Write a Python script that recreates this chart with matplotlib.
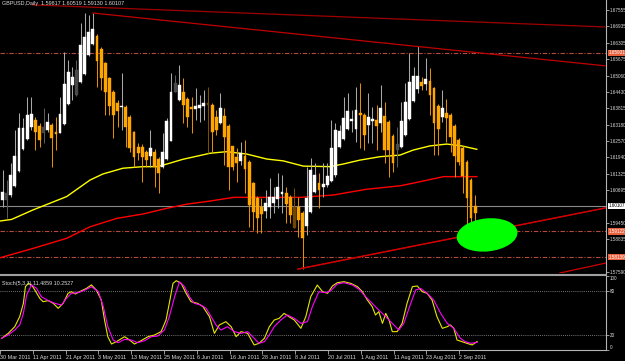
import matplotlib
matplotlib.use("Agg")
import matplotlib.pyplot as plt
import matplotlib.transforms as mtransforms
from matplotlib.patches import Ellipse
from matplotlib.lines import Line2D

plt.rcParams['font.family'] = ['Liberation Sans', 'DejaVu Sans']

# ---------------- data ----------------
symbol_title = "GBPUSD,Daily  1.59817 1.60519 1.59130 1.60107"
stoch_title = "Stoch(5,3,3) 11.4859 10.2527"

bars = list(range(1, 117))
opens = [1.6032, 1.6032, 1.6051, 1.6086, 1.6143, 1.6225, 1.6264, 1.6309, 1.6336, 1.6314,
         1.6288, 1.6298, 1.6316, 1.6291, 1.6288, 1.6321, 1.6397, 1.6470, 1.6432, 1.6482,
         1.6512, 1.6584, 1.6626, 1.6656, 1.6607, 1.6552, 1.6495, 1.6444, 1.6400, 1.6385,
         1.6387, 1.6349, 1.6290, 1.6235, 1.6235, 1.6216, 1.6199, 1.6216, 1.6187, 1.6159,
         1.6187, 1.6257, 1.6444, 1.6413, 1.6444, 1.6416, 1.6385, 1.6378, 1.6383, 1.6390,
         1.6400, 1.6394, 1.6347, 1.6324, 1.6352, 1.6314, 1.6237, 1.6197, 1.6181, 1.6199,
         1.6175, 1.6095, 1.6040, 1.6004, 1.5991, 1.6004, 1.6021, 1.6034, 1.6054, 1.6057,
         1.6044, 1.6006, 1.6006, 1.5981, 1.5933, 1.5987, 1.6063, 1.6098, 1.6082, 1.6089,
         1.6105, 1.6127, 1.6232, 1.6264, 1.6302, 1.6334, 1.6301, 1.6362, 1.6355, 1.6317,
         1.6334, 1.6336, 1.6325, 1.6352, 1.6330, 1.6275, 1.6222, 1.6232, 1.6279, 1.6340,
         1.6409, 1.6455, 1.6482, 1.6472, 1.6486, 1.6457, 1.6390, 1.6347, 1.6364, 1.6355,
         1.6314, 1.6260, 1.6229, 1.6178, 1.6108, 1.59817]
highs = [1.6146, 1.6108, 1.6171, 1.6298, 1.6362, 1.6343, 1.6425, 1.6425, 1.6349, 1.6324,
         1.6381, 1.6362, 1.6324, 1.6349, 1.6425, 1.6597, 1.6565, 1.6540, 1.6565, 1.6705,
         1.6744, 1.6736, 1.6744, 1.6664, 1.6615, 1.6557, 1.6500, 1.6451, 1.6413, 1.6514,
         1.6394, 1.6355, 1.6295, 1.6249, 1.6245, 1.6222, 1.6298, 1.6226, 1.6195, 1.6286,
         1.6344, 1.6514, 1.6508, 1.6546, 1.6495, 1.6424, 1.6425, 1.6457, 1.6432, 1.6451,
         1.6463, 1.6401, 1.6375, 1.6438, 1.6381, 1.6321, 1.6237, 1.6229, 1.6254, 1.6260,
         1.6184, 1.6100, 1.6047, 1.6038, 1.6070, 1.6114, 1.6082, 1.6133, 1.6127, 1.6082,
         1.6051, 1.6076, 1.6044, 1.5990, 1.6159, 1.6191, 1.6171, 1.6133, 1.6171, 1.6171,
         1.6336, 1.6324, 1.6317, 1.6425, 1.6438, 1.6375, 1.6463, 1.6476, 1.6363, 1.6438,
         1.6387, 1.6394, 1.6470, 1.6406, 1.6336, 1.6283, 1.6309, 1.6406, 1.6476, 1.6591,
         1.6540, 1.6618, 1.6501, 1.6572, 1.6533, 1.6462, 1.6397, 1.6451, 1.6415, 1.6363,
         1.6321, 1.6268, 1.6237, 1.6184, 1.6115, 1.60519]
lows = [1.6006, 1.5962, 1.6044, 1.6082, 1.6139, 1.6222, 1.6260, 1.6298, 1.6222, 1.6235,
        1.6248, 1.6292, 1.6159, 1.6222, 1.6286, 1.6317, 1.6394, 1.6413, 1.6428, 1.6476,
        1.6508, 1.6580, 1.6622, 1.6463, 1.6451, 1.6355, 1.6355, 1.6267, 1.6311, 1.6298,
        1.6235, 1.6216, 1.6159, 1.6184, 1.6101, 1.6159, 1.6159, 1.6082, 1.6057, 1.6152,
        1.6184, 1.6256, 1.6443, 1.6409, 1.6324, 1.6311, 1.6286, 1.6336, 1.6330, 1.6336,
        1.6210, 1.6216, 1.6279, 1.6321, 1.6165, 1.6070, 1.6146, 1.6101, 1.6165, 1.6057,
        1.5930, 1.5917, 1.5905, 1.5905, 1.5962, 1.5962, 1.5981, 1.6000, 1.5981, 1.5943,
        1.5943, 1.5924, 1.5892, 1.5768, 1.5898, 1.5981, 1.6057, 1.6000, 1.6044, 1.6082,
        1.6101, 1.6120, 1.6230, 1.6260, 1.6298, 1.6292, 1.6254, 1.6229, 1.6222, 1.6248,
        1.6248, 1.6222, 1.6292, 1.6171, 1.6120, 1.6139, 1.6159, 1.6229, 1.6275, 1.6336,
        1.6405, 1.6438, 1.6451, 1.6451, 1.6355, 1.6203, 1.6203, 1.6330, 1.6254, 1.6216,
        1.6120, 1.6165, 1.6057, 1.5930, 1.5917, 1.59130]
closes = [1.6064, 1.6058, 1.6127, 1.6199, 1.6305, 1.6307, 1.6355, 1.6358, 1.6290, 1.6260,
          1.6309, 1.6330, 1.6267, 1.6283, 1.6358, 1.6472, 1.6520, 1.6501, 1.6527, 1.6622,
          1.6654, 1.6671, 1.6682, 1.6562, 1.6495, 1.6444, 1.6391, 1.6355, 1.6371, 1.6390,
          1.6309, 1.6229, 1.6197, 1.6210, 1.6197, 1.6184, 1.6229, 1.6159, 1.6136, 1.6216,
          1.6333, 1.6444, 1.6476, 1.6470, 1.6394, 1.6349, 1.6377, 1.6390, 1.6394, 1.6402,
          1.6394, 1.6292, 1.6298, 1.6383, 1.6271, 1.6159, 1.6156, 1.6171, 1.6210, 1.6149,
          1.6013, 1.5987, 1.5962, 1.5978, 1.6021, 1.6044, 1.6044, 1.6082, 1.6063, 1.6017,
          1.5974, 1.5924, 1.5955, 1.5886, 1.6038, 1.6146, 1.6127, 1.6070, 1.6093, 1.6123,
          1.6229, 1.6298, 1.6296, 1.6343, 1.6372, 1.6339, 1.6375, 1.6355, 1.6279, 1.6349,
          1.6339, 1.6314, 1.6382, 1.6222, 1.6222, 1.6174, 1.6245, 1.6334, 1.6406, 1.6482,
          1.6504, 1.6504, 1.6467, 1.6493, 1.6432, 1.6324, 1.6302, 1.6381, 1.6343, 1.6273,
          1.6199, 1.6178, 1.6123, 1.6038, 1.5964, 1.60107]
# W = white bull, O = orange bear, g = dim grey, d = dim orange
kinds = ("WgWWWWWWOOgWOOWWWWgWWWWOOOOOOWOOOOOOWOOWWWgWOOOWWWdOOWOOOOWO"
         "OOOOWWWWWOOdOOWWWOWWWWWWWWWOOWWOWOOOgWWWWWOWOOOWOOOOOOOO")

ma_fast = [(0.4, 1.5952), (3.2, 1.5958), (8.4, 1.5994), (16.6, 1.6045), (22.3, 1.6108),
           (25.4, 1.6131), (30.3, 1.6153), (35.2, 1.6159), (38.6, 1.6159), (41.0, 1.6169),
           (44.9, 1.6187), (51.5, 1.6210), (55.5, 1.6216), (60.4, 1.6207), (65.3, 1.6188),
           (69.3, 1.6181), (74.2, 1.6161), (80.7, 1.6159), (83.9, 1.6169), (88.0, 1.6184),
           (92.9, 1.6197), (97.7, 1.6203), (100.9, 1.6222), (105.0, 1.6238), (109.1, 1.6245),
           (112.7, 1.6238), (116.4, 1.6225)]
ma_slow = [(0.4, 1.5812), (8.5, 1.5848), (16.6, 1.5886), (22.3, 1.5930), (28.8, 1.5962),
           (35.3, 1.5979), (40.9, 1.6000), (45.8, 1.6016), (51.5, 1.6028), (57.2, 1.6042),
           (65.3, 1.6042), (73.4, 1.6042), (81.5, 1.6051), (89.6, 1.6073), (97.7, 1.6086),
           (100.9, 1.6096), (108.3, 1.6121), (116.4, 1.6121)]

trendlines = [((8.2, 1.6775), (147.6, 1.6691)),
              ((23.0, 1.6744), (147.6, 1.6543)),
              ((72.9, 1.5769), (147.8, 1.6002)),
              ((136.6, 1.5754), (147.8, 1.5792))]
levels = [1.65931, 1.59122, 1.58139]
last_price = 1.60107
price_ticks = [1.67555, 1.66935, 1.66305, 1.65675, 1.65060, 1.64430, 1.63815, 1.63180,
               1.62570, 1.61940, 1.61325, 1.60695, 1.59450, 1.58835, 1.57590]
target_zone = (118.9, 1.5899)

stoch_k = [(0.4, 15.8), (2.0, 22.5), (3.6, 31.5), (4.8, 45), (5.7, 63), (6.2, 85.6), (6.9, 90),
           (7.7, 88), (8.5, 81), (9.7, 69.8), (10.5, 65.3), (11.8, 66.7), (13.0, 63), (14.2, 56.3),
           (15.4, 63), (16.6, 76.6), (17.4, 78.8), (18.4, 75.7), (19.4, 78.8), (21.1, 83.3),
           (22.3, 88), (23.5, 81), (24.7, 67.6), (25.5, 40.5), (26.3, 18), (27.2, 8.1),
           (28.4, 11.3), (30.4, 18), (31.6, 13.5), (32.8, 8.1), (34.4, 12.6), (36.1, 18),
           (37.7, 20.3), (39.3, 24.8), (40.5, 40.5), (41.3, 63), (42.2, 90), (43.0, 93.7),
           (44.2, 90), (45.4, 76.6), (46.6, 65.3), (48.2, 63), (49.5, 58.6), (51.1, 45),
           (52.3, 22.5), (53.5, 33.8), (55.1, 38.3), (56.4, 31.5), (57.6, 18), (58.8, 24.8),
           (60.4, 22.5), (62.0, 6.8), (63.2, 9), (64.5, 15.8), (65.7, 31.5), (66.9, 40.5),
           (68.1, 42.8), (69.3, 49.5), (70.5, 45), (71.8, 40.5), (73.4, 29.3), (74.6, 45),
           (75.8, 72), (77.4, 87.8), (78.7, 78.8), (79.9, 76.6), (81.1, 86.5), (82.3, 91),
           (83.9, 92.3), (85.6, 90), (87.2, 85.6), (88.4, 78.8), (89.6, 67.6), (90.8, 58.6),
           (91.6, 47.3), (92.4, 51.8), (93.3, 36), (94.1, 49.5), (94.9, 40.5), (95.7, 24.8),
           (96.9, 24.8), (98.1, 36), (99.3, 63), (100.6, 85.6), (101.8, 86.5), (103.0, 78.8),
           (104.2, 76.6), (105.4, 67.6), (106.6, 45), (107.9, 29.3), (109.1, 31.5),
           (109.9, 33.8), (110.7, 29.3), (111.5, 13.5), (112.7, 11.3), (113.9, 9),
           (115.2, 6.8), (116.4, 11.5)]
stoch_d = [(0.4, 15.8), (2.0, 20.3), (3.6, 27), (4.8, 33.8), (5.7, 49.5), (6.5, 74.3), (7.7, 88),
           (8.9, 83.3), (10.1, 72), (11.8, 66.7), (13.4, 63), (15.0, 60.8), (16.2, 69.8),
           (17.4, 76.6), (19.1, 77.5), (20.7, 81), (22.3, 85.6), (24.0, 78.8), (25.2, 58.6),
           (26.3, 31.5), (27.6, 13.5), (28.8, 9.9), (30.4, 14.4), (32.0, 13.5), (33.6, 9.9),
           (35.3, 12.6), (36.9, 18), (38.5, 18.9), (40.1, 27), (41.3, 45), (42.6, 72),
           (43.8, 92.3), (45.0, 85.6), (46.2, 72), (47.4, 63), (49.0, 60.8), (50.3, 56.3),
           (51.5, 45), (52.7, 33.8), (53.9, 27), (55.5, 31.5), (57.2, 24.8), (58.8, 22.5),
           (60.4, 24.8), (62.0, 15.8), (63.2, 9), (64.5, 11.3), (65.7, 20.3), (66.9, 31.5),
           (68.5, 40.5), (70.1, 47.3), (71.8, 42.8), (73.4, 36), (75.0, 38.3), (76.2, 58.6),
           (77.8, 78.8), (79.5, 77.5), (80.7, 80.2), (82.3, 89.2), (83.9, 91), (86.0, 87.8),
           (87.6, 82), (89.2, 72), (90.8, 63), (92.4, 54), (94.1, 45), (95.7, 36), (97.3, 27),
           (98.5, 36), (100.2, 63), (101.4, 81), (102.6, 83.3), (104.2, 76.6), (105.8, 67.6),
           (107.5, 49.5), (109.1, 36), (110.7, 29.3), (112.3, 15.8), (113.5, 11.3),
           (114.8, 9), (116.4, 10.25)]
stoch_levels = [80, 20]

date_bars = [0, 8, 16, 24, 32, 40, 48, 56, 64, 72, 80, 88, 96, 104, 112]
date_labels = ["30 Mar 2011", "11 Apr 2011", "21 Apr 2011", "3 May 2011", "13 May 2011",
               "25 May 2011", "6 Jun 2011", "16 Jun 2011", "28 Jun 2011", "8 Jul 2011",
               "20 Jul 2011", "1 Aug 2011", "11 Aug 2011", "23 Aug 2011", "2 Sep 2011"]

# ---------------- layout (pixels) ----------------
PW, PH = 625, 361
PLOT_R = 606
MAIN_B = 273
ST_T, ST_B = 276, 350
X0, SP = -1.6, 4.11
XLIM = ((0 - X0) / SP, (PLOT_R - X0) / SP)
YLIM = (1.57540, 1.67936)

GREY = '#b4b4b4'
TXT = '#dcdcdc'
FS = 3.9
FSR = 3.3

fig = plt.figure(figsize=(PW / 100, PH / 100), dpi=100, facecolor='black')
ax = fig.add_axes([0, 1 - MAIN_B / PH, PLOT_R / PW, MAIN_B / PH], facecolor='black')
ax2 = fig.add_axes([0, 1 - ST_B / PH, PLOT_R / PW, (ST_B - ST_T) / PH], facecolor='black')

for a in (ax, ax2):
    a.set_xlim(*XLIM)
    for s in ('top', 'left'):
        a.spines[s].set_visible(False)
    a.spines['right'].set_color(GREY)
    a.spines['right'].set_linewidth(0.8)
    a.spines['bottom'].set_visible(False)
ax2.spines['bottom'].set_visible(True)
ax2.spines['bottom'].set_color(GREY)
ax2.spines['bottom'].set_linewidth(0.8)
ax.set_ylim(*YLIM)
ax2.set_ylim(0, 100)

# ---------------- main chart ----------------
for lv in levels:
    ax.axhline(lv, color='#b34a3a', lw=0.8, dashes=(4, 1.5, 1, 1.5), zorder=1)
ax.axhline(last_price, color='#8a8a8a', lw=0.8, zorder=1)

ax.plot([p[0] for p in ma_fast], [p[1] for p in ma_fast], color='#ffff00', lw=1.0, zorder=2)
ax.plot([p[0] for p in ma_slow], [p[1] for p in ma_slow], color='#ff0000', lw=1.0, zorder=2)

palette = {'W': ('#ffffff', '#a8a8a8'), 'O': ('#ffa500', '#e09000'),
           'g': ('#4a4a4a', '#5a5a5a'), 'd': ('#6e4800', '#7a5000')}
BW = 0.7
for i, o, h, l, c, k in zip(bars, opens, highs, lows, closes, kinds):
    body, wick = palette[k]
    ax.vlines(i, l, h, color=wick, lw=0.75, zorder=3)
    lo, hi = min(o, c), max(o, c)
    ax.bar(i, max(hi - lo, 0.00005), bottom=lo, width=BW, color=body,
           edgecolor=body, linewidth=0.3, zorder=4)

tl_colors = ['#a00000', '#c00000', '#d00000', '#d00000']
for (p1, p2), col in zip(trendlines, tl_colors):
    ax.plot([p1[0], p2[0]], [p1[1], p2[1]], color=col, lw=0.9, zorder=5)

cx, cy = ax.transData.transform(target_zone)
ell = Ellipse((cx, cy), 61, 33, angle=6, facecolor='#00ff00', edgecolor='none', zorder=6)
ell.set_transform(mtransforms.IdentityTransform())
ell.set_clip_on(False)
fig.add_artist(ell)
ax.plot([trendlines[2][0][0], trendlines[2][1][0]], [trendlines[2][0][1], trendlines[2][1][1]],
        color='#d00000', lw=0.9, zorder=7)

ax.yaxis.tick_right()
ax.set_yticks(price_ticks)
ax.set_yticklabels([f"{p:.5f}" for p in price_ticks])
ax.tick_params(axis='y', length=2, width=0.6, color=GREY, labelsize=FSR, labelcolor=TXT, pad=0.6)
ax.set_xticks([])

ytr = mtransforms.blended_transform_factory(ax.transAxes, ax.transData)
for lv in levels:
    ax.text(1.0045, lv, f"{lv:.5f}", transform=ytr, fontsize=FSR, color='#ffffff', va='center',
            ha='left', bbox=dict(boxstyle='square,pad=0.12', facecolor='#e8603c', edgecolor='none'),
            zorder=10, clip_on=False)
ax.text(1.0045, last_price, f"{last_price:.5f}", transform=ytr, fontsize=FSR, color='#000000',
        va='center', ha='left',
        bbox=dict(boxstyle='square,pad=0.12', facecolor='#ffffff', edgecolor='none'),
        zorder=10, clip_on=False)

fig.text(2 / PW, 1 - 1 / PH, symbol_title, fontsize=FS, color=TXT, va='top', ha='left')

# ---------------- stochastic ----------------
for lv in stoch_levels:
    ax2.axhline(lv, color='#9a9a9a', lw=0.6, dashes=(1, 1.5))
ax2.plot([p[0] for p in stoch_k], [p[1] for p in stoch_k], color='#e6e600', lw=0.8)
ax2.plot([p[0] for p in stoch_d], [p[1] for p in stoch_d], color='#ff00ff', lw=0.8)
ax2.text(2 / PLOT_R, 0.93, stoch_title, transform=ax2.transAxes, fontsize=FS,
         color=TXT, va='top', ha='left')

ax2.yaxis.tick_right()
ax2.set_yticks([100, 80, 20, 0])
ax2.set_yticklabels(["100", "80", "20", "0"])
ax2.tick_params(axis='y', length=2, width=0.6, color=GREY, labelsize=FSR, labelcolor=TXT, pad=0.6)
ylabs = ax2.get_yticklabels()
ylabs[0].set_va('top')
ylabs[-1].set_va('bottom')

ax2.set_xticks(date_bars)
ax2.set_xticklabels(date_labels)
ax2.tick_params(axis='x', length=3, width=0.6, color=GREY, labelsize=FS, labelcolor=TXT, pad=0.5)
for t in ax2.get_xticklabels():
    t.set_ha('left')

# panel separator
for yy in (MAIN_B + 0.5, ST_T - 0.8):
    fig.add_artist(Line2D([0, PLOT_R / PW], [1 - yy / PH] * 2, transform=fig.transFigure,
                          color='#a0a0a0', lw=0.8))

fig.savefig('out.png', dpi=100, facecolor='black')
